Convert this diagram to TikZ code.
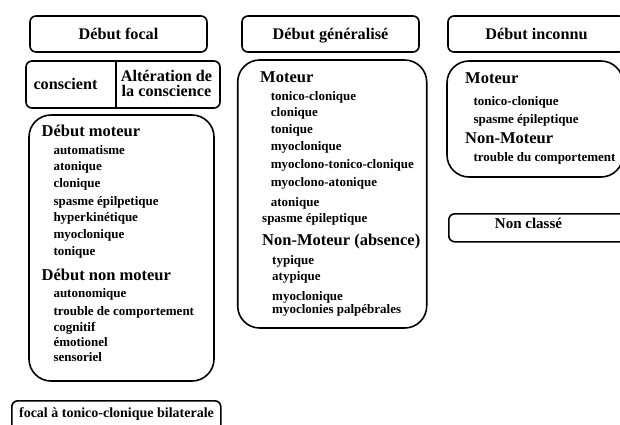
\documentclass[tikz,border=0pt]{standalone}
\usepackage{fontspec}
\setmainfont{Liberation Serif}
\usepackage{tikz}

\newcommand{\listfont}{\fontsize{13}{15}\selectfont\bfseries}
\newcommand{\grouphfont}{\fontsize{16.5}{18}\selectfont\bfseries}
\newcommand{\boxtitlefont}{\fontsize{16.2}{15}\selectfont\bfseries}

\tikzset{
  frame/.style={draw, line width=1.6pt, inner sep=0pt},
  titlebox/.style={frame, rounded corners=6pt, font=\boxtitlefont,
    text height=11.5pt, text depth=0pt},
  bigbox/.style={frame, rounded corners=22pt},
  listitem/.style={anchor=base west, inner sep=0pt, font=\listfont},
  grouphead/.style={anchor=base west, inner sep=0pt, font=\grouphfont}
}

\begin{document}
\begin{tikzpicture}[x=1pt, y=-1pt]
            \useasboundingbox (0,0) rectangle (620,424);
            \clip (0,0) rectangle (620,424);

            % focal
            \node[titlebox, minimum width=177, minimum height=36] (focal) at (118.5,34) {D\'ebut focal};
            \node[frame, rounded corners=6pt, minimum width=194, minimum height=47] (etat) at (123,84.5) {};
            \coordinate (split) at (116,61);
            \draw[line width=1.6pt] (split) -- (split |- etat.south);
            \node[font=\boxtitlefont, inner sep=0pt] (conscient) at (65.5,84) {conscient};
            \node[font=\boxtitlefont, inner sep=0pt, align=center] (alteration) at (166.5,83.5) {Alt\'eration de\\la conscience};

            \node[bigbox, minimum width=185, minimum height=266] (focalbox) at (121.5,248) {};
            \node[grouphead] (fmot) at (41.5,136.7) {D\'ebut moteur};
            \node[listitem] (fm1) at (53.3,154.3) {automatisme};
            \node[listitem] (fm2) at (53.3,170.5) {atonique};
            \node[listitem] (fm3) at (53.3,187.3) {clonique};
            \node[listitem] (fm4) at (53.3,205) {spasme \'epilpetique};
            \node[listitem] (fm5) at (53.3,221.7) {hyperkin\'etique};
            \node[listitem] (fm6) at (53.3,238.3) {myoclonique};
            \node[listitem] (fm7) at (53.3,255) {tonique};
            \node[grouphead] (fnon) at (41.5,280) {D\'ebut non moteur};
            \node[listitem] (fn1) at (53.3,297.7) {autonomique};
            \node[listitem] (fn2) at (53.3,315) {trouble de comportement};
            \node[listitem] (fn3) at (53.3,331) {cognitif};
            \node[listitem] (fn4) at (53.3,346.7) {\'emotionel};
            \node[listitem] (fn5) at (53.3,361) {sensoriel};

            \node[frame, rounded corners=6pt, minimum width=209, minimum height=40, anchor=north west] (bilat) at (11,400) {};
            \node[anchor=base, inner sep=0pt, font=\fontsize{14}{16}\selectfont\bfseries] (bilattext) at (116.5,417.7) {focal \`a tonico-clonique bilaterale};

            % generalise
            \node[titlebox, minimum width=177, minimum height=36] (gen) at (330.5,34) {D\'ebut g\'en\'eralis\'e};
            \node[bigbox, minimum width=189, minimum height=268] (genbox) at (332.2,194) {};
            \node[grouphead] (gmot) at (260,82.7) {Moteur};
            \node[listitem] (gm1) at (270.7,100) {tonico-clonique};
            \node[listitem] (gm2) at (270.7,116) {clonique};
            \node[listitem] (gm3) at (270.7,133.3) {tonique};
            \node[listitem] (gm4) at (270.7,150.7) {myoclonique};
            \node[listitem] (gm5) at (270.7,168.3) {myoclono-tonico-clonique};
            \node[listitem] (gm6) at (270.7,186) {myoclono-atonique};
            \node[listitem] (gm7) at (270.7,206) {atonique};
            \node[listitem] (gm8) at (262,222.7) {spasme \'epileptique};
            \node[grouphead] (gnon) at (262,245) {Non-Moteur (absence)};
            \node[listitem] (gn1) at (272,264) {typique};
            \node[listitem] (gn2) at (272,280.7) {atypique};
            \node[listitem] (gn3) at (272,300) {myoclonique};
            \node[listitem] (gn4) at (272,313.3) {myoclonies palp\'ebrales};

            % inconnu
            \node[titlebox, minimum width=177, minimum height=36] (inc) at (536.5,34) {D\'ebut inconnu};
            \node[bigbox, minimum width=176, minimum height=116] (incbox) at (535,119) {};
            \node[grouphead] (imot) at (465,83.3) {Moteur};
            \node[listitem] (im1) at (473.3,105) {tonico-clonique};
            \node[listitem] (im2) at (473.3,123) {spasme \'epileptique};
            \node[grouphead] (inon) at (465,143.3) {Non-Moteur};
            \node[listitem] (in1) at (473.3,161.7) {trouble du comportement};

            \node[frame, rounded corners=6pt, minimum width=190, minimum height=28, anchor=north west] (noncl) at (448,213) {};
            \node[anchor=base, inner sep=0pt, font=\fontsize{15}{16}\selectfont\bfseries] (nonclt) at (528.5,228.7) {Non class\'e};
        \end{tikzpicture}
\end{document}
